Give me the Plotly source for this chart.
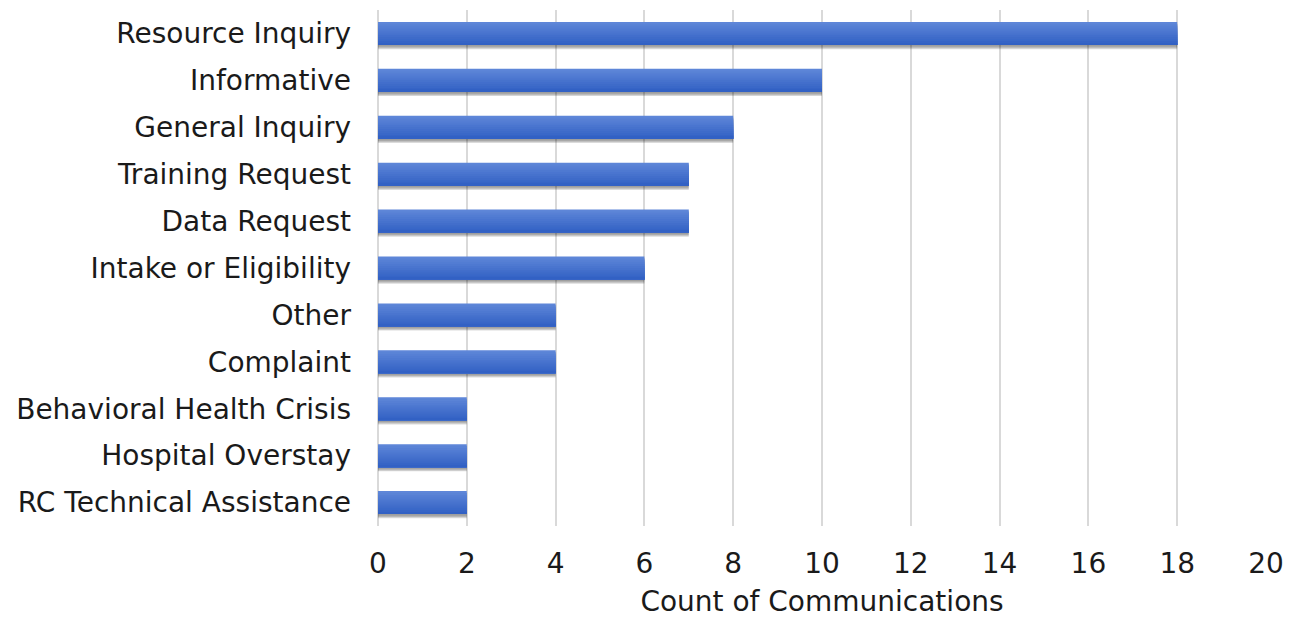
import plotly.graph_objects as go

categories = ["Resource Inquiry", "Informative", "General Inquiry", "Training Request",
              "Data Request", "Intake or Eligibility", "Other", "Complaint",
              "Behavioral Health Crisis", "Hospital Overstay", "RC Technical Assistance"]
counts = [18, 10, 8, 7, 7, 6, 4, 4, 2, 2, 2]
x_ticks = [0, 2, 4, 6, 8, 10, 12, 14, 16, 18, 20]

bar_w = 0.49
fig = go.Figure()

# soft shadow under bars
for j, a in enumerate([0.08, 0.10, 0.12, 0.14]):
    fig.add_trace(go.Bar(y=categories, x=counts, orientation="h", width=bar_w,
                         offset=-bar_w / 2 + 0.03 + 0.02 * j,
                         marker=dict(color="rgba(0,0,0,%.2f)" % a, line_width=0),
                         hoverinfo="skip", showlegend=False))

# vertical gradient built from overlapping slices (each reaches the bar bottom)
top = (94, 134, 216)
bot = (50, 97, 196)
n = 12
for i in range(n):
    t = i / (n - 1)
    c = tuple(round(top[k] + (bot[k] - top[k]) * t) for k in range(3))
    fig.add_trace(go.Bar(y=categories, x=counts, orientation="h",
                         width=bar_w * (n - i) / n,
                         offset=-bar_w / 2 + i * bar_w / n,
                         marker=dict(color="rgb(%d,%d,%d)" % c, line_width=0),
                         showlegend=False, name="Count"))

font_family = "DejaVu Sans, sans-serif"
fs = 28
fig.update_layout(
    width=1293, height=618,
    margin=dict(l=378, r=27, t=10, b=92),
    plot_bgcolor="white", paper_bgcolor="white",
    barmode="overlay",
    font=dict(family=font_family, size=fs, color="#1a1a1a"),
    showlegend=False,
)
fig.update_xaxes(range=[0, 20], tickvals=x_ticks, ticktext=[str(v) for v in x_ticks],
                 showgrid=True, gridcolor="#d9d9d9", gridwidth=1.5,
                 zeroline=True, zerolinecolor="#d9d9d9", zerolinewidth=1.5,
                 showline=False, ticks="", ticklen=0, ticklabelstandoff=18,
                 tickfont=dict(size=fs), automargin=False,
                 title=dict(text="Count of Communications", font=dict(size=fs), standoff=15))
fig.update_yaxes(categoryorder="array", categoryarray=categories, autorange="reversed",
                 showgrid=False, showline=False, ticks="", ticklen=0, automargin=False,
                 ticklabelstandoff=26, tickfont=dict(size=fs))

fig.write_html("out.html")
